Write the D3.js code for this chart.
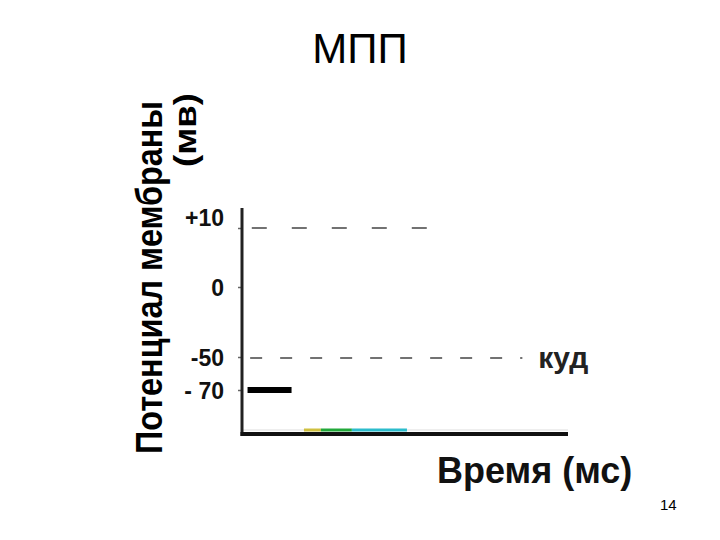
<!DOCTYPE html>
<html>
<head>
<meta charset="utf-8">
<script src="https://cdn.jsdelivr.net/npm/d3@7"></script>
<style>
  html, body { margin: 0; padding: 0; background: #fff; }
  svg { display: block; }
  text { font-family: Arial, "Liberation Sans", sans-serif; }
</style>
</head>
<body>
<svg id="chart" width="720" height="540"></svg>
<script>
// ---- data ----
const title = "МПП";
const yTitle = ["Потенциал мембраны", "(мв)"];
const xTitle = "Время (мс)";
const pageNumber = "14";

const yTickValues = [10, 0, -50, -70];
const yTickLabels = ["+10", "0", "-50", "- 70"];
const yAxisExtent = [13.4, -96.5];          // mV, ends of the drawn axis line
const xAxisExtent = [0, 10];                // ms

const dashedLevels = [10, -50];              // mV
const dashedStarts = [0.3, 0.25];            // ms
const dashedEnds = [5.8, 8.6];               // ms
const thresholdLabel = "куд";

const restingLevel = -70;                    // mV
const restingSpan = [0.17, 1.52];            // ms

const stimStarts = [1.9, 2.42, 3.37];        // ms
const stimEnds = [2.42, 3.37, 5.06];         // ms
const stimColors = ["#cfc040", "#22a83a", "#2cbccc"];

// ---- scales ----
const svg = d3.select("#chart");
const y = d3.scaleLinear()
  .domain([yAxisExtent[0], 10, 0, -50, -70, yAxisExtent[1]])
  .range([208, 228, 287, 357, 390, 434]);
const x = d3.scaleLinear().domain(xAxisExtent).range([242, 568]);

// title
svg.append("text").attr("x", 360).attr("y", 63).attr("text-anchor", "middle")
  .attr("font-size", 42).attr("fill", "#000").text(title);

// y title (rotated)
svg.append("text").attr("transform", "translate(162,101) rotate(-90)")
  .attr("text-anchor", "end").attr("font-size", 37).attr("font-weight", "bold")
  .attr("textLength", 353).attr("lengthAdjust", "spacingAndGlyphs")
  .text(yTitle[0]);
svg.append("text").attr("transform", "translate(196,93) rotate(-90)")
  .attr("text-anchor", "end").attr("font-size", 32).attr("font-weight", "bold")
  .attr("textLength", 74).attr("lengthAdjust", "spacingAndGlyphs")
  .text(yTitle[1]);

// faint line above x axis
svg.append("line").attr("x1", x(xAxisExtent[0])).attr("x2", x(xAxisExtent[1]))
  .attr("y1", y(yAxisExtent[1]) - 4).attr("y2", y(yAxisExtent[1]) - 4)
  .attr("stroke", "#ddd").attr("stroke-width", 1);

// stimulus coloured bars
svg.selectAll("line.stim").data(stimStarts).join("line").attr("class", "stim")
  .attr("x1", d => x(d)).attr("x2", (d, i) => x(stimEnds[i]))
  .attr("y1", y(yAxisExtent[1]) - 4).attr("y2", y(yAxisExtent[1]) - 4)
  .attr("stroke", (d, i) => stimColors[i]).attr("stroke-width", 3);

// y axis
const yAxis = d3.axisLeft(y).tickValues(yTickValues)
  .tickFormat((d, i) => yTickLabels[i]).tickSize(4).tickPadding(14);
const gy = svg.append("g").attr("transform", `translate(${x(xAxisExtent[0])},0)`).call(yAxis);
gy.select(".domain").remove();
gy.selectAll(".tick line").attr("stroke", "#666").attr("stroke-width", 1.5);
gy.selectAll(".tick text").attr("font-size", 23).attr("font-weight", "bold")
  .attr("font-family", "Arial, 'Liberation Sans', sans-serif").attr("fill", "#111")
  .attr("dy", (d) => d === 10 ? "-0.1em" : "0.35em");

// axis lines
svg.append("line").attr("x1", x(xAxisExtent[0])).attr("x2", x(xAxisExtent[0]))
  .attr("y1", y(yAxisExtent[0])).attr("y2", y(yAxisExtent[1]) + 2)
  .attr("stroke", "#222").attr("stroke-width", 3);
svg.append("line").attr("x1", x(xAxisExtent[0]) - 1.5).attr("x2", x(xAxisExtent[1]))
  .attr("y1", y(yAxisExtent[1])).attr("y2", y(yAxisExtent[1]))
  .attr("stroke", "#111").attr("stroke-width", 4);

// dashed levels
svg.selectAll("line.dash").data(dashedLevels).join("line").attr("class", "dash")
  .attr("x1", (d, i) => x(dashedStarts[i])).attr("x2", (d, i) => x(dashedEnds[i]))
  .attr("y1", d => y(d) + (d === -50 ? 1 : 0)).attr("y2", d => y(d) + (d === -50 ? 1 : 0))
  .attr("stroke", "#444").attr("stroke-width", 1.5)
  .attr("stroke-dasharray", (d, i) => i === 0 ? "15,25" : "12,18");

// threshold label
svg.append("text").attr("x", x(dashedEnds[1]) + 16).attr("y", y(-50) + 11)
  .attr("font-size", 30).attr("font-weight", "bold").attr("fill", "#222")
  .text(thresholdLabel);

// resting potential segment
svg.append("line").attr("x1", x(restingSpan[0])).attr("x2", x(restingSpan[1]))
  .attr("y1", y(restingLevel)).attr("y2", y(restingLevel))
  .attr("stroke", "#000").attr("stroke-width", 6);

// x title
svg.append("text").attr("x", 437).attr("y", 483).attr("font-size", 36)
  .attr("font-weight", "bold").attr("fill", "#111").text(xTitle);

// page number
svg.append("text").attr("x", 660).attr("y", 510).attr("font-size", 15)
  .attr("fill", "#000").text(pageNumber);
</script>
</body>
</html>
